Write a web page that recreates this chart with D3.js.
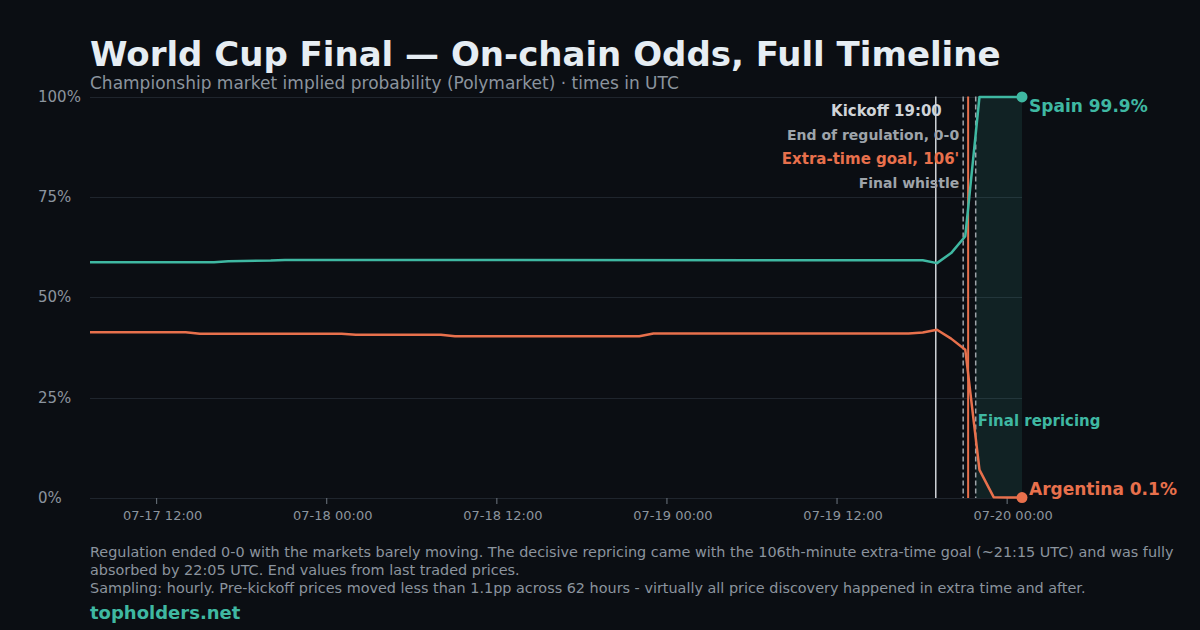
<!DOCTYPE html>
<html>
<head>
<meta charset="utf-8">
<script src="https://cdn.jsdelivr.net/npm/d3@7"></script>
<style>
  body { margin: 0; background: #0b0e13; }
  svg { display: block; font-family: "DejaVu Sans", sans-serif; }
</style>
</head>
<body>
<svg width="1200" height="630"></svg>
<script>
// values (UTC)
var spainTimes = ["2026-07-17 07:20", "2026-07-17 16:05", "2026-07-17 17:05", "2026-07-17 20:05", "2026-07-17 21:05",
  "2026-07-19 18:05", "2026-07-19 19:05", "2026-07-19 20:05", "2026-07-19 21:05", "2026-07-19 22:05",
  "2026-07-19 23:05", "2026-07-20 00:05", "2026-07-20 01:05"];
var spainValues = [58.7, 58.7, 58.95, 59.15, 59.3, 59.2, 58.5, 61.0, 65.2, 99.9, 99.9, 99.9, 99.9];

var argTimes = ["2026-07-17 07:20", "2026-07-17 14:05", "2026-07-17 15:05", "2026-07-18 01:05", "2026-07-18 02:05",
  "2026-07-18 08:05", "2026-07-18 09:05", "2026-07-18 22:05", "2026-07-18 23:05", "2026-07-19 17:05",
  "2026-07-19 18:05", "2026-07-19 19:05", "2026-07-19 20:05", "2026-07-19 21:05", "2026-07-19 22:05",
  "2026-07-19 23:05", "2026-07-20 00:05", "2026-07-20 01:05"];
var argValues = [41.3, 41.3, 40.9, 40.9, 40.65, 40.65, 40.3, 40.3, 40.95, 41.0, 41.2, 41.9, 39.7, 36.9, 7.0, 0.2, 0.1, 0.1];

var yTicks = [0, 25, 50, 75, 100];
var xTicks = ["2026-07-17 12:00", "2026-07-18 00:00", "2026-07-18 12:00", "2026-07-19 00:00", "2026-07-19 12:00", "2026-07-20 00:00"];

var kickoffTime = "2026-07-19 19:00";
var regulationTime = "2026-07-19 20:56";
var goalTime = "2026-07-19 21:17";
var whistleTime = "2026-07-19 21:49";

var footerLines = [
  "Regulation ended 0-0 with the markets barely moving. The decisive repricing came with the 106th-minute extra-time goal (~21:15 UTC) and was fully",
  "absorbed by 22:05 UTC. End values from last traded prices.",
  "Sampling: hourly. Pre-kickoff prices moved less than 1.1pp across 62 hours - virtually all price discovery happened in extra time and after."
];

var teal = "#3fb8a2";
var orange = "#e8704c";
var gray = "#8b949e";

var parse = d3.utcParse("%Y-%m-%d %H:%M");
var fmt = d3.utcFormat("%m-%d %H:%M");

var svg = d3.select("svg");
svg.append("rect").attr("width", 1200).attr("height", 630).attr("fill", "#0b0e13");

var plotLeft = 90, plotRight = 1022, plotTop = 96.5, plotBottom = 498;

var spain = spainTimes.map(function (t, i) { return { t: parse(t), v: spainValues[i] }; });
var arg = argTimes.map(function (t, i) { return { t: parse(t), v: argValues[i] }; });

var x = d3.scaleUtc()
  .domain([parse(spainTimes[0]), parse(spainTimes[spainTimes.length - 1])])
  .range([plotLeft, plotRight]);
var y = d3.scaleLinear().domain([0, 100]).range([plotBottom, plotTop]);

// title
svg.append("text").attr("x", 90).attr("y", 66)
  .attr("fill", "#e6edf3").attr("font-size", 34).attr("font-weight", "bold")
  .text("World Cup Final \u2014 On-chain Odds, Full Timeline");
svg.append("text").attr("x", 90).attr("y", 89)
  .attr("fill", gray).attr("font-size", 17)
  .text("Championship market implied probability (Polymarket) \u00b7 times in UTC");

// grid + y labels
svg.append("g").selectAll("line").data(yTicks).enter().append("line")
  .attr("x1", plotLeft).attr("x2", plotRight)
  .attr("y1", function (d) { return Math.round(y(d)) + 0.5; })
  .attr("y2", function (d) { return Math.round(y(d)) + 0.5; })
  .attr("stroke", "#1f252d").attr("stroke-width", 1);
svg.append("g").selectAll("text").data(yTicks).enter().append("text")
  .attr("x", 38).attr("y", function (d) { return y(d) + 5; })
  .attr("fill", gray).attr("font-size", 15)
  .text(function (d) { return d + "%"; });

// shaded final repricing window
svg.append("rect")
  .attr("x", x(parse(whistleTime))).attr("y", plotTop)
  .attr("width", plotRight - x(parse(whistleTime))).attr("height", plotBottom - plotTop)
  .attr("fill", teal).attr("fill-opacity", 0.12);

// x axis
var xAxis = d3.axisBottom(x)
  .tickValues(xTicks.map(parse))
  .tickFormat(fmt)
  .tickSize(6)
  .tickPadding(7);
var gx = svg.append("g").attr("transform", "translate(0," + plotBottom + ")").call(xAxis);
gx.select(".domain").remove();
gx.selectAll("line").attr("stroke", "#6e7681");
gx.selectAll("text").attr("fill", gray).attr("font-size", 13).attr("dx", 6)
  .attr("font-family", "DejaVu Sans, sans-serif");

// event lines
var kx = x(parse(kickoffTime));
var rx = x(parse(regulationTime));
var goalX = x(parse(goalTime));
var wx = x(parse(whistleTime));
svg.append("line").attr("x1", kx).attr("x2", kx).attr("y1", plotTop).attr("y2", plotBottom)
  .attr("stroke", "#d0d4d8").attr("stroke-width", 1.5);
[rx, wx].forEach(function (px) {
  svg.append("line").attr("x1", px).attr("x2", px).attr("y1", plotTop).attr("y2", plotBottom)
    .attr("stroke", "#9ea4aa").attr("stroke-width", 1.5).attr("stroke-dasharray", "5,3");
});
svg.append("line").attr("x1", goalX).attr("x2", goalX).attr("y1", plotTop).attr("y2", plotBottom)
  .attr("stroke", orange).attr("stroke-width", 2);

// series
var line = d3.line()
  .x(function (d) { return x(d.t); })
  .y(function (d) { return y(d.v); });
svg.append("path").datum(spain).attr("d", line)
  .attr("fill", "none").attr("stroke", teal).attr("stroke-width", 2.5).attr("stroke-linejoin", "round");
svg.append("path").datum(arg).attr("d", line)
  .attr("fill", "none").attr("stroke", orange).attr("stroke-width", 2.5).attr("stroke-linejoin", "round");

// event labels
var lab = svg.append("g").attr("font-weight", "bold").attr("text-anchor", "end");
lab.append("text").attr("x", kx + 6).attr("y", 116).attr("font-size", 15).attr("fill", "#d0d4d8").text("Kickoff 19:00");
lab.append("text").attr("x", rx - 4).attr("y", 140).attr("font-size", 14).attr("fill", "#9ea4aa").text("End of regulation, 0-0");
lab.append("text").attr("x", rx - 4).attr("y", 164).attr("font-size", 15).attr("fill", orange).text("Extra-time goal, 106'");
lab.append("text").attr("x", rx - 4).attr("y", 188).attr("font-size", 14).attr("fill", "#9ea4aa").text("Final whistle");

svg.append("text").attr("x", wx + 2).attr("y", 426)
  .attr("fill", teal).attr("font-size", 15).attr("font-weight", "bold")
  .text("Final repricing");

// end dots + labels
var sLast = spain[spain.length - 1], aLast = arg[arg.length - 1];
svg.append("circle").attr("cx", x(sLast.t)).attr("cy", y(sLast.v)).attr("r", 5.5).attr("fill", teal);
svg.append("circle").attr("cx", x(aLast.t)).attr("cy", y(aLast.v)).attr("r", 5.5).attr("fill", orange);
svg.append("text").attr("x", x(sLast.t) + 7).attr("y", y(sLast.v) + 15)
  .attr("fill", teal).attr("font-size", 17).attr("font-weight", "bold")
  .text("Spain " + sLast.v + "%");
svg.append("text").attr("x", x(aLast.t) + 7).attr("y", y(aLast.v) - 3)
  .attr("fill", orange).attr("font-size", 17).attr("font-weight", "bold")
  .text("Argentina " + aLast.v + "%");

// footer
svg.append("g").selectAll("text").data(footerLines).enter().append("text")
  .attr("x", 90).attr("y", function (d, i) { return 557 + i * 18; })
  .attr("fill", gray).attr("font-size", 14.4)
  .text(function (d) { return d; });
svg.append("text").attr("x", 90).attr("y", 619)
  .attr("fill", teal).attr("font-size", 18).attr("font-weight", "bold")
  .text("topholders.net");
</script>
</body>
</html>
